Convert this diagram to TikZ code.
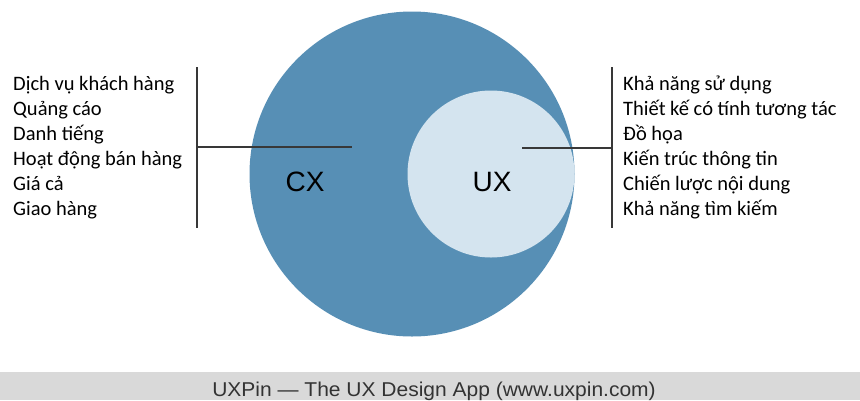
\documentclass[tikz,border=0pt]{standalone}
\usepackage{fontspec}
\setmainfont{Carlito}
\newfontfamily\labelfont{Liberation Sans}
\newfontfamily\footfont[FakeStretch=1.05]{Liberation Sans}
\usetikzlibrary{positioning}
\definecolor{cxblue}{RGB}{87,143,181}
\definecolor{uxblue}{RGB}{212,228,239}
\definecolor{footgray}{RGB}{217,217,217}

\begin{document}
\begin{tikzpicture}[x=1pt, y=-1pt,
  setcircle/.style={circle, inner sep=0pt, draw=none},
  setlabel/.style={font=\labelfont\fontsize{28}{28}\selectfont},
  item/.style={anchor=base west, inner sep=0pt, font=\fontsize{20.5}{25}\selectfont},
  bar/.style={draw=black!78, line width=1.3pt}]
  \useasboundingbox (0,0) rectangle (860,400);
  % footer band
  \fill[footgray] (0,372) rectangle (860,400);
  \node[anchor=base, inner sep=0pt, font=\footfont\fontsize{20}{20}\selectfont, text=black!80] (foot) at (434,396) {UXPin — The UX Design App (www.uxpin.com)};
  % circles
  \node[setcircle, fill=cxblue, minimum size=325pt] (cx) at (412,174) {};
  \node[setcircle, fill=uxblue, minimum size=167pt] (ux) at (491,174) {};
  \node[setlabel] (cxlabel) at (305,182) {CX};
  \node[setlabel] (uxlabel) at (492,182) {UX};
  % lists
  \foreach \txt [count=\i] in {Dịch vụ khách hàng, Quảng cáo, Danh tiếng, Hoạt động bán hàng, Giá cả, Giao hàng}
    \node[item] (cx-\i) at (13, 65+25*\i) {\txt};
  \foreach \txt [count=\i] in {Khả năng sử dụng, Thiết kế có tính tương tác, Đồ họa, Kiến trúc thông tin, Chiến lược nội dung, Khả năng tìm kiếm}
    \node[item] (ux-\i) at (623, 65+25*\i) {\txt};
  % brackets
  \coordinate (cxtop) at (197,67);
  \coordinate (cxbot) at (197,228);
  \coordinate (cxmid) at (197,147);
  \coordinate (cxtip) at (352,147);
  \coordinate (uxtop) at (612,67);
  \coordinate (uxbot) at (612,228);
  \coordinate (uxmid) at (612,148);
  \coordinate (uxtip) at (522,148);
  \draw[bar] (cxtop) -- (cxbot);
  \draw[bar] (cxmid) -- (cxtip);
  \draw[bar] (uxtop) -- (uxbot);
  \draw[bar] (uxmid) -- (uxtip);
\end{tikzpicture}
\end{document}
